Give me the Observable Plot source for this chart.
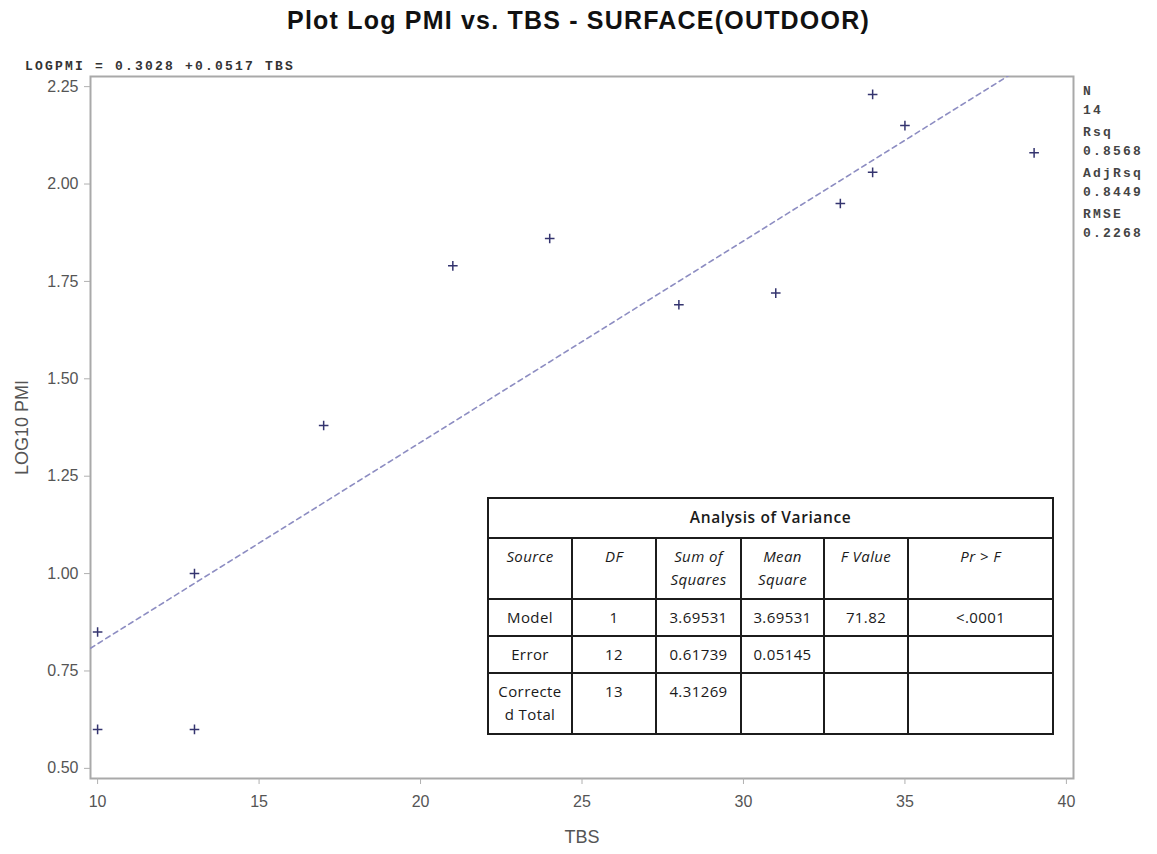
<!DOCTYPE html>
<html>
<head>
<meta charset="utf-8">
<script src="https://cdn.jsdelivr.net/npm/d3@7"></script>
<script src="https://cdn.jsdelivr.net/npm/@observablehq/plot@0.6"></script>
<style>
  html, body { margin: 0; padding: 0; background: #fff; }
  #wrap { position: relative; width: 1157px; height: 854px; overflow: hidden; }
  #title {
    height: 48px; line-height: 40px; text-align: center;
    font-family: "Liberation Sans", Arial, sans-serif; font-weight: bold;
    font-size: 25px; letter-spacing: 1.2px; color: #111;
  }
  .mono {
    position: absolute; font-family: "Liberation Mono", "Courier New", monospace;
    font-weight: bold; font-size: 13px; letter-spacing: 2.2px; color: #333;
    white-space: nowrap;
  }
  #stats { left: 1083px; top: 83px; line-height: 18.5px; color: #444; }
  #stats div.gap { height: 4px; }
  #eq { left: 25px; top: 59px; }
  #anova {
    position: absolute; left: 487px; top: 497px; border-collapse: collapse;
    font-family: "Open Sans", "Noto Sans", sans-serif; font-size: 15px; letter-spacing: 0.4px;
    color: #1a1a1a; background: #fff; table-layout: fixed;
  }
  #anova td { border: 2px solid #1c1c1c; text-align: center; vertical-align: top;
    padding: 6px 0 0 0; line-height: 23px; box-sizing: border-box; white-space: nowrap; }
  #anova td.hdr { font-style: italic; }
  #anova td.ttl { padding-top: 7px; font-weight: 600; font-size: 15.5px; letter-spacing: 0.6px; }
</style>
</head>
<body>
<div id="wrap">
  <div id="title">Plot Log PMI vs. TBS - SURFACE(OUTDOOR)</div>
  <div id="chart"></div>
  <div id="eq" class="mono"></div>
  <div id="stats" class="mono"></div>
  <table id="anova"></table>
</div>
<script>
// Observations: TBS and log10 PMI
const tbs    = [10, 10, 13, 13, 17, 21, 24, 28, 31, 33, 34, 34, 35, 39];
const logPmi = [0.85, 0.60, 1.00, 0.60, 1.38, 1.79, 1.86, 1.69, 1.72, 1.95, 2.03, 2.23, 2.15, 2.08];

// Fitted model
const intercept = 0.3028;
const slope = 0.0517;

// Fit statistics shown on the right
const statNames  = ["N", "Rsq", "AdjRsq", "RMSE"];
const statValues = ["14", "0.8568", "0.8449", "0.2268"];

// Analysis of variance table
const anovaTitle   = "Analysis of Variance";
const anovaHeaders = ["Source", "DF", "Sum of<br>Squares", "Mean<br>Square", "F Value", "Pr > F"];
const anovaSources = ["Model", "Error", "Correcte<br>d Total"];
const anovaDF      = ["1", "12", "13"];
const anovaSS      = ["3.69531", "0.61739", "4.31269"];
const anovaMS      = ["3.69531", "0.05145", ""];
const anovaF       = ["71.82", "", ""];
const anovaP       = ["<.0001", "", ""];

// Axis ticks
const xTicks = [10, 15, 20, 25, 30, 35, 40];
const yTicks = [0.50, 0.75, 1.00, 1.25, 1.50, 1.75, 2.00, 2.25];

const xDomain = [9.78, 40.22];
const yDomain = [0.474, 2.276];

const points = tbs.map((x, i) => ({x, y: logPmi[i]}));
const fitLine = xDomain.map(x => ({x, y: intercept + slope * x}));

const chart = Plot.plot({
  width: 1157,
  height: 806,
  marginLeft: 90,
  marginRight: 84,
  marginTop: 28,
  marginBottom: 76,
  style: {fontFamily: "Liberation Sans, Arial, sans-serif", fontSize: "16px", color: "#555", background: "#fff"},
  x: {domain: xDomain, ticks: xTicks, label: null},
  y: {domain: yDomain, ticks: yTicks, label: null, tickFormat: d3.format(".2f")},
  marks: [
    Plot.frame({stroke: "#a9a9a9", strokeWidth: 2}),
    Plot.axisX({ticks: xTicks, tickSize: 6, tickPadding: 11, stroke: "#b0b0b0", fill: "#555"}),
    Plot.axisY({ticks: yTicks, tickSize: 6, tickPadding: 6, stroke: "#b0b0b0", fill: "#555", tickFormat: d3.format(".2f")}),
    Plot.line(fitLine, {x: "x", y: "y", stroke: "#8d8dc2", strokeWidth: 1.6, strokeDasharray: "5,4", clip: true}),
    Plot.dot(points, {x: "x", y: "y", symbol: "plus", r: 3.2, stroke: "#34346f", strokeWidth: 1.5}),
    Plot.text(["TBS"], {frameAnchor: "bottom", dy: 64, fontSize: 18, fill: "#555"}),
    Plot.text(["LOG10 PMI"], {frameAnchor: "left", dx: -68, rotate: -90, textAnchor: "middle", fontSize: 18, fill: "#555"})
  ]
});
document.getElementById("chart").appendChild(chart);

// Regression equation above the frame
document.getElementById("eq").textContent =
  `LOGPMI = ${intercept.toFixed(4)} +${slope.toFixed(4)} TBS`;

// Fit statistics column
document.getElementById("stats").innerHTML = statNames
  .map((n, i) => `<div>${n}</div><div>${statValues[i]}</div>`)
  .join('<div class="gap"></div>');

// ANOVA table
const colW = [84, 84, 85, 83, 84, 145];
const rowH = [40, 61, 37, 37, 61];
const esc = s => s.replace(/<(?!br>)/g, "&lt;").replace(/(?<!<br)>/g, "&gt;");
let html = `<colgroup>${colW.map(w => `<col style="width:${w}px">`).join("")}</colgroup>`;
html += `<tr style="height:${rowH[0]}px"><td class="ttl" colspan="6">${anovaTitle}</td></tr>`;
html += `<tr style="height:${rowH[1]}px">${anovaHeaders.map(h => `<td class="hdr">${esc(h)}</td>`).join("")}</tr>`;
anovaSources.forEach((s, i) => {
  const cells = [s, anovaDF[i], anovaSS[i], anovaMS[i], anovaF[i], anovaP[i]];
  html += `<tr style="height:${rowH[i + 2]}px">${cells.map(c => `<td>${esc(c)}</td>`).join("")}</tr>`;
});
const table = document.getElementById("anova");
table.style.width = d3.sum(colW) + "px";
table.innerHTML = html;
</script>
</body>
</html>
